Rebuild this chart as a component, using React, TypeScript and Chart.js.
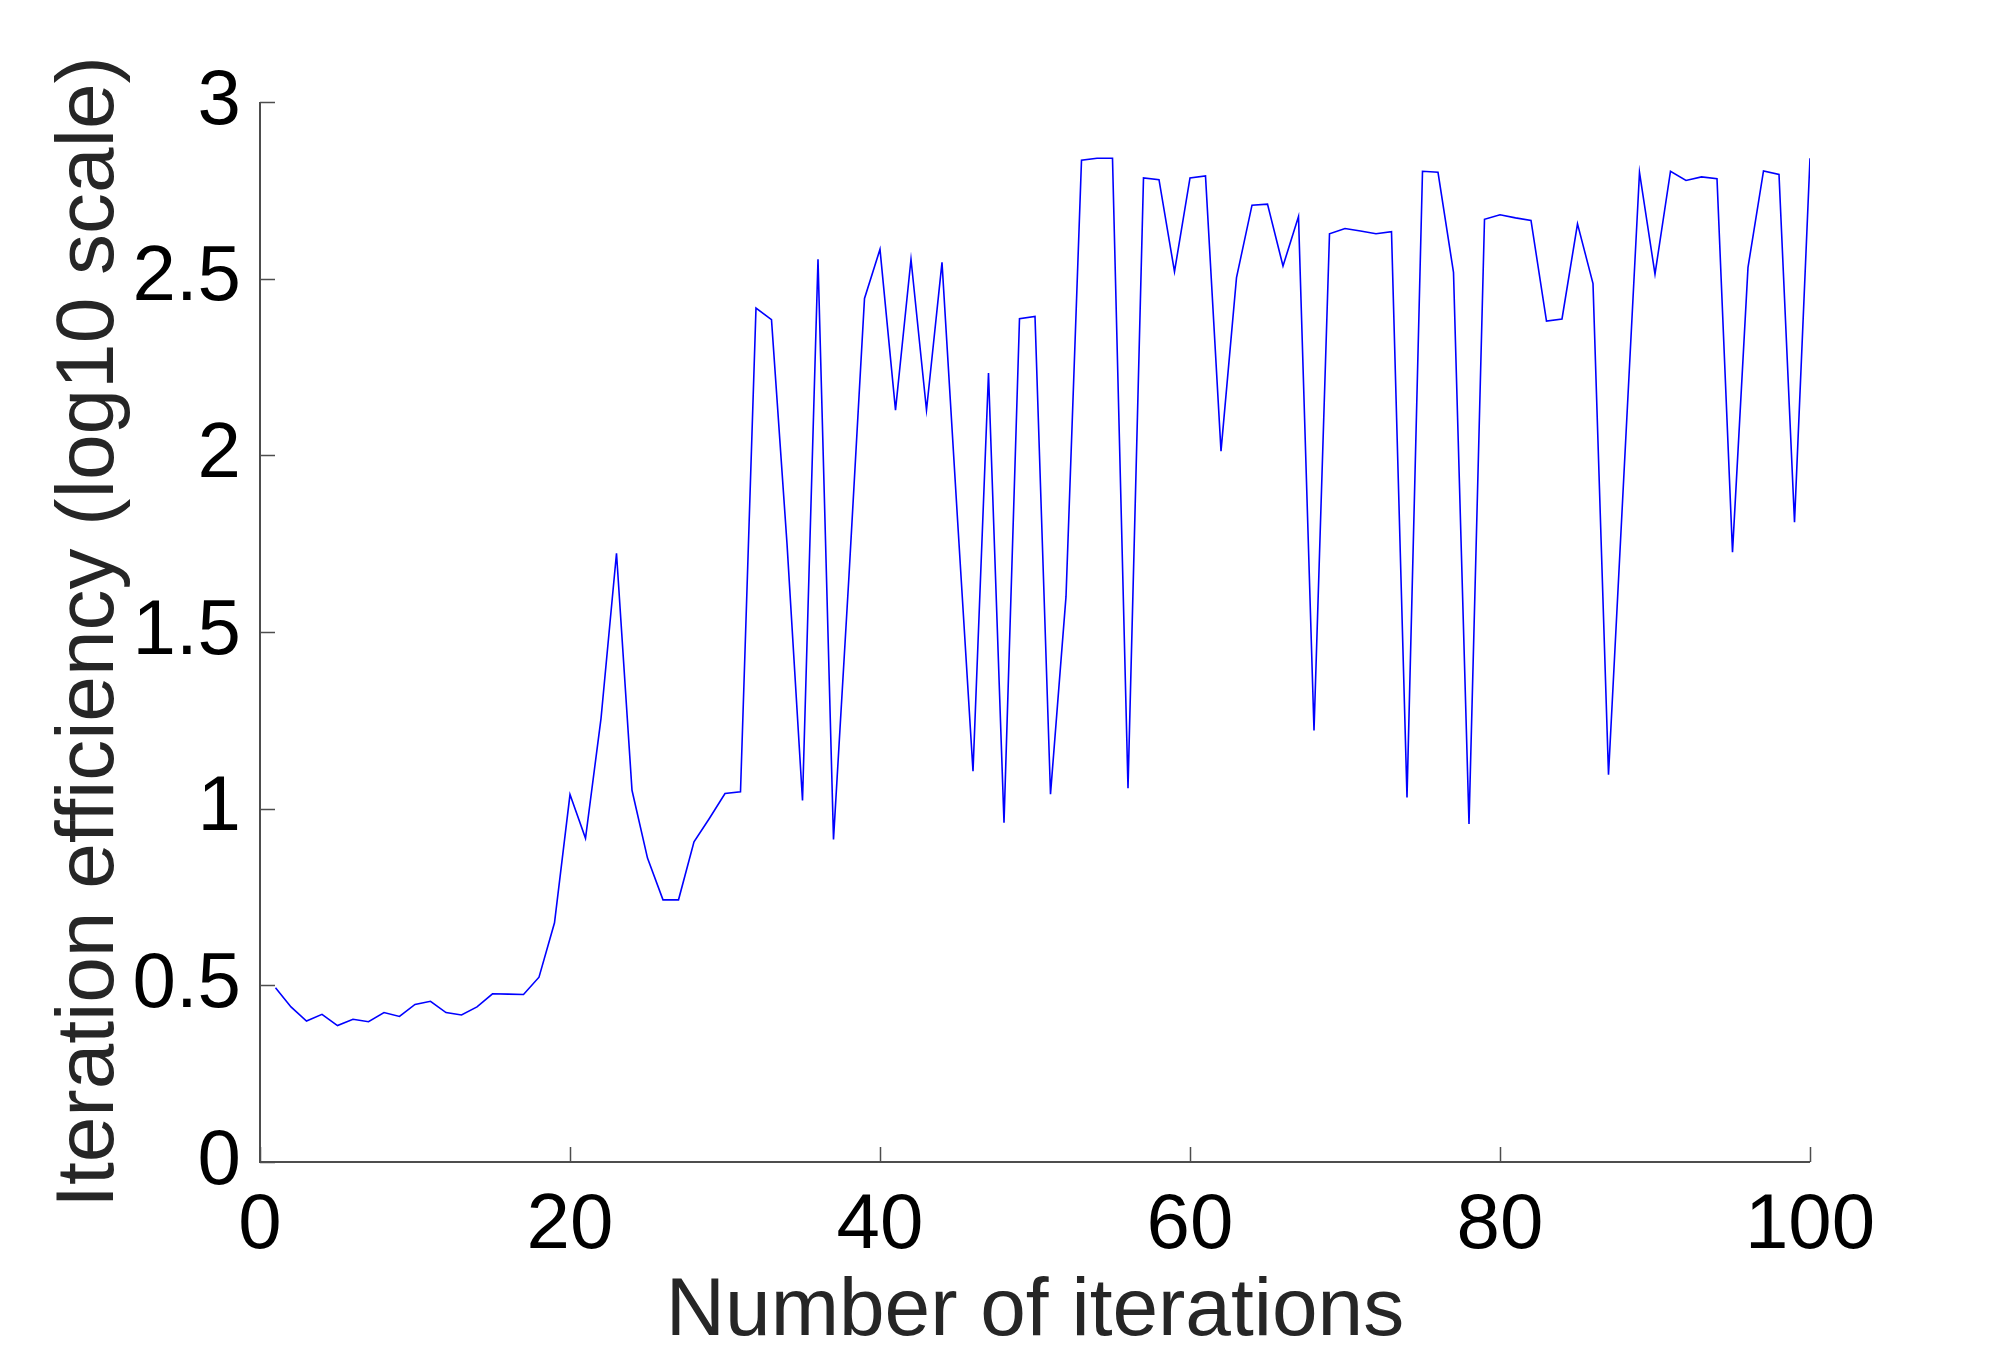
import React, { useEffect, useRef } from "react";
import { Chart, registerables } from "chart.js";

Chart.register(...registerables);

const ITERATIONS = [
  1, 2, 3, 4, 5, 6, 7, 8, 9, 10, 11, 12, 13, 14, 15, 16, 17, 18, 19, 20,
  21, 22, 23, 24, 25, 26, 27, 28, 29, 30, 31, 32, 33, 34, 35, 36, 37, 38, 39, 40,
  41, 42, 43, 44, 45, 46, 47, 48, 49, 50, 51, 52, 53, 54, 55, 56, 57, 58, 59, 60,
  61, 62, 63, 64, 65, 66, 67, 68, 69, 70, 71, 72, 73, 74, 75, 76, 77, 78, 79, 80,
  81, 82, 83, 84, 85, 86, 87, 88, 89, 90, 91, 92, 93, 94, 95, 96, 97, 98, 99, 100,
];

const EFFICIENCY = [
  0.493, 0.439, 0.399, 0.418, 0.386, 0.404, 0.397, 0.423, 0.412, 0.446,
  0.455, 0.423, 0.416, 0.439, 0.476, 0.475, 0.474, 0.523, 0.677, 1.04,
  0.916, 1.255, 1.723, 1.052, 0.86, 0.742, 0.742, 0.906, 0.973, 1.043,
  1.048, 2.417, 2.384, 1.75, 1.023, 2.555, 0.913, 1.66, 2.444, 2.583,
  2.128, 2.555, 2.128, 2.546, 1.82, 1.106, 2.233, 0.96, 2.387, 2.393,
  1.041, 1.6, 2.835, 2.841, 2.841, 1.058, 2.785, 2.78, 2.52, 2.785,
  2.791, 2.012, 2.503, 2.708, 2.711, 2.536, 2.676, 1.221, 2.627, 2.642,
  2.635, 2.627, 2.633, 1.032, 2.804, 2.801, 2.518, 0.957, 2.668, 2.681,
  2.672, 2.665, 2.38, 2.386, 2.655, 2.486, 1.096, 1.95, 2.801, 2.513,
  2.804, 2.778, 2.788, 2.783, 1.726, 2.532, 2.805, 2.795, 1.811, 2.841,
];

const X_TICKS = [0, 20, 40, 60, 80, 100];
const Y_TICKS = [0, 0.5, 1, 1.5, 2, 2.5, 3];
const X_TITLE = "Number of iterations";
const Y_TITLE = "Iteration efficiency (log10 scale)";

const FONT = "'Liberation Sans', Arial, Helvetica, sans-serif";
const AXIS_COLOR = "#4d4d4d";

const axesPlugin = {
  id: "matlabAxes",
  afterDatasetsDraw(chart: any) {
    const { ctx, chartArea, scales } = chart;
    const xs = scales.x;
    const ys = scales.y;
    const tick = 15;
    ctx.save();
    ctx.strokeStyle = AXIS_COLOR;
    ctx.lineWidth = 2;
    ctx.beginPath();
    ctx.moveTo(chartArea.left, chartArea.top);
    ctx.lineTo(chartArea.left, chartArea.bottom);
    ctx.lineTo(chartArea.right, chartArea.bottom);
    ctx.stroke();
    ctx.lineWidth = 1.5;
    ctx.beginPath();
    for (const v of Y_TICKS) {
      const py = Math.round(ys.getPixelForValue(v)) + 0.5;
      ctx.moveTo(chartArea.left, py);
      ctx.lineTo(chartArea.left + tick, py);
    }
    for (const v of X_TICKS) {
      const px = Math.round(xs.getPixelForValue(v)) + 0.5;
      ctx.moveTo(px, chartArea.bottom);
      ctx.lineTo(px, chartArea.bottom - tick);
    }
    ctx.stroke();
    ctx.restore();
  },
};

export default function App() {
  const canvasRef = useRef<HTMLCanvasElement | null>(null);

  useEffect(() => {
    const canvas = canvasRef.current;
    if (!canvas) return;
    const chart = new Chart(canvas, {
      type: "line",
      data: {
        datasets: [
          {
            data: ITERATIONS.map((x, i) => ({ x, y: EFFICIENCY[i] })),
            borderColor: "#0000ff",
            borderWidth: 1.6,
            pointRadius: 0,
            fill: false,
            tension: 0,
          },
        ],
      },
      options: {
        responsive: false,
        devicePixelRatio: 1,
        animation: false,
        layout: { padding: { top: 102, right: 190, left: 0, bottom: 0 } },
        plugins: {
          legend: { display: false },
          tooltip: { enabled: false },
          title: { display: false },
        },
        scales: {
          x: {
            type: "linear",
            min: 0,
            max: 100,
            afterBuildTicks: (scale: any) => {
              scale.ticks = X_TICKS.map((v) => ({ value: v }));
            },
            afterFit: (scale: any) => {
              scale.height = 191;
            },
            grid: { display: false },
            border: { display: false },
            ticks: {
              autoSkip: false,
              maxRotation: 0,
              padding: 10,
              color: "#000",
              font: { family: FONT, size: 78 },
              callback: (v: any) => String(v),
            },
            title: {
              display: true,
              text: X_TITLE,
              color: "#262626",
              font: { family: FONT, size: 82, lineHeight: 1.0 },
              padding: { top: 0, bottom: 0 },
            },
          },
          y: {
            type: "linear",
            min: 0,
            max: 3,
            afterBuildTicks: (scale: any) => {
              scale.ticks = Y_TICKS.map((v) => ({ value: v }));
            },
            afterFit: (scale: any) => {
              scale.width = 260;
            },
            grid: { display: false },
            border: { display: false },
            ticks: {
              autoSkip: false,
              padding: 11,
              color: "#000",
              font: { family: FONT, size: 78 },
              callback: (v: any) => String(v),
            },
            title: {
              display: true,
              text: Y_TITLE,
              color: "#262626",
              font: { family: FONT, size: 82 },
              padding: { top: 41, bottom: 0 },
            },
          },
        },
      },
      plugins: [axesPlugin],
    } as any);
    return () => chart.destroy();
  }, []);

  return (
    <div style={{ position: "absolute", left: 0, top: 0, width: 2000, height: 1353, background: "#fff" }}>
      <canvas ref={canvasRef} width={2000} height={1353} style={{ width: 2000, height: 1353, display: "block" }} />
    </div>
  );
}
